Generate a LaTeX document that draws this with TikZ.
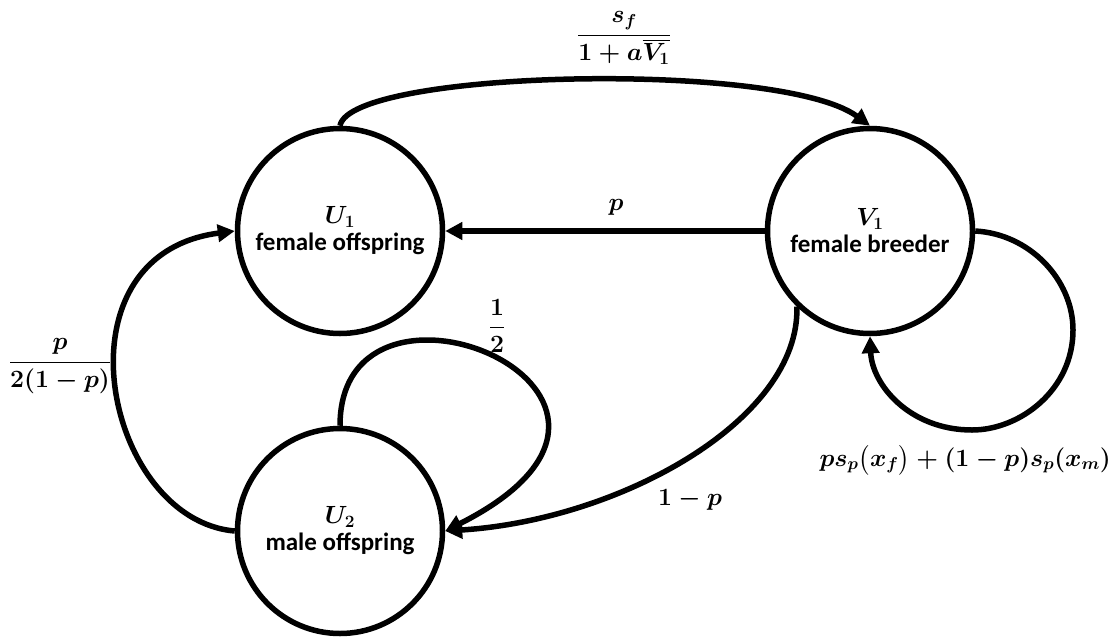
\documentclass[tikz,border=0pt]{standalone}
\usepackage{amsmath}
\usepackage{fontspec}
\setmainfont{Carlito}
\usetikzlibrary{arrows.meta}
\begin{document}
\begin{tikzpicture}[x=1pt,y=-1pt,
  state/.style={draw, circle, line width=5.5pt, minimum size=205pt, inner sep=0pt, align=center,
    font=\boldmath\bfseries\fontsize{25}{27}\selectfont},
  arr/.style={line width=5.5pt, -{Triangle[length=17pt,width=17pt]}},
  lbl/.style={font=\boldmath\fontsize{24.5}{28}\selectfont, inner sep=0pt}]
\useasboundingbox (0,0) rectangle (1115,637);
\node[state] (U1) at (340,231) {$U_1$\\female offspring};
\node[state] (V1) at (870,231) {$V_1$\\female breeder};
\node[state] (U2) at (340,531) {$U_2$\\male offspring};

% U1 -> V1 (top arc)
\draw[arr] (U1.north) .. controls (350,70) and (780,60) .. (V1.north);
\node[lbl] (lsf) at (624,38) {$\dfrac{s_f}{1+a\overline{V_1}}$};

% V1 -> U1
\draw[arr] (V1.west) -- (U1.east);
\node[lbl] (lp) at (616,207) {$p$};

% U2 self loop
\draw[arr] (U2.north) .. controls (340,240) and (715,395) .. (U2.east);
\node[lbl] (lhalf) at (497,326) {$\dfrac{1}{2}$};

% V1 -> U2
\draw[arr] (V1.226) .. controls (800,420) and (620,520) .. (U2.east);
\node[lbl] (l1mp) at (690,500) {$1-p$};

% U2 -> U1
\draw[arr] (U2.west) .. controls (105,520) and (50,255) .. (U1.west);
\node[lbl] (lleft) at (60,366) {$\dfrac{p}{2(1-p)}$};

% V1 self loop
\draw[arr] (V1.east) .. controls (1030,234) and (1073,280) .. (1073,330)
  .. controls (1073,390) and (1020,430) .. (972,430)
  .. controls (910,430) and (872,385) .. (V1.south);
\node[lbl, anchor=east] (lself) at (1111,460) {$ps_p\bigl(x_f\bigr)+(1-p)s_p(x_m)$};
\end{tikzpicture}
\end{document}
